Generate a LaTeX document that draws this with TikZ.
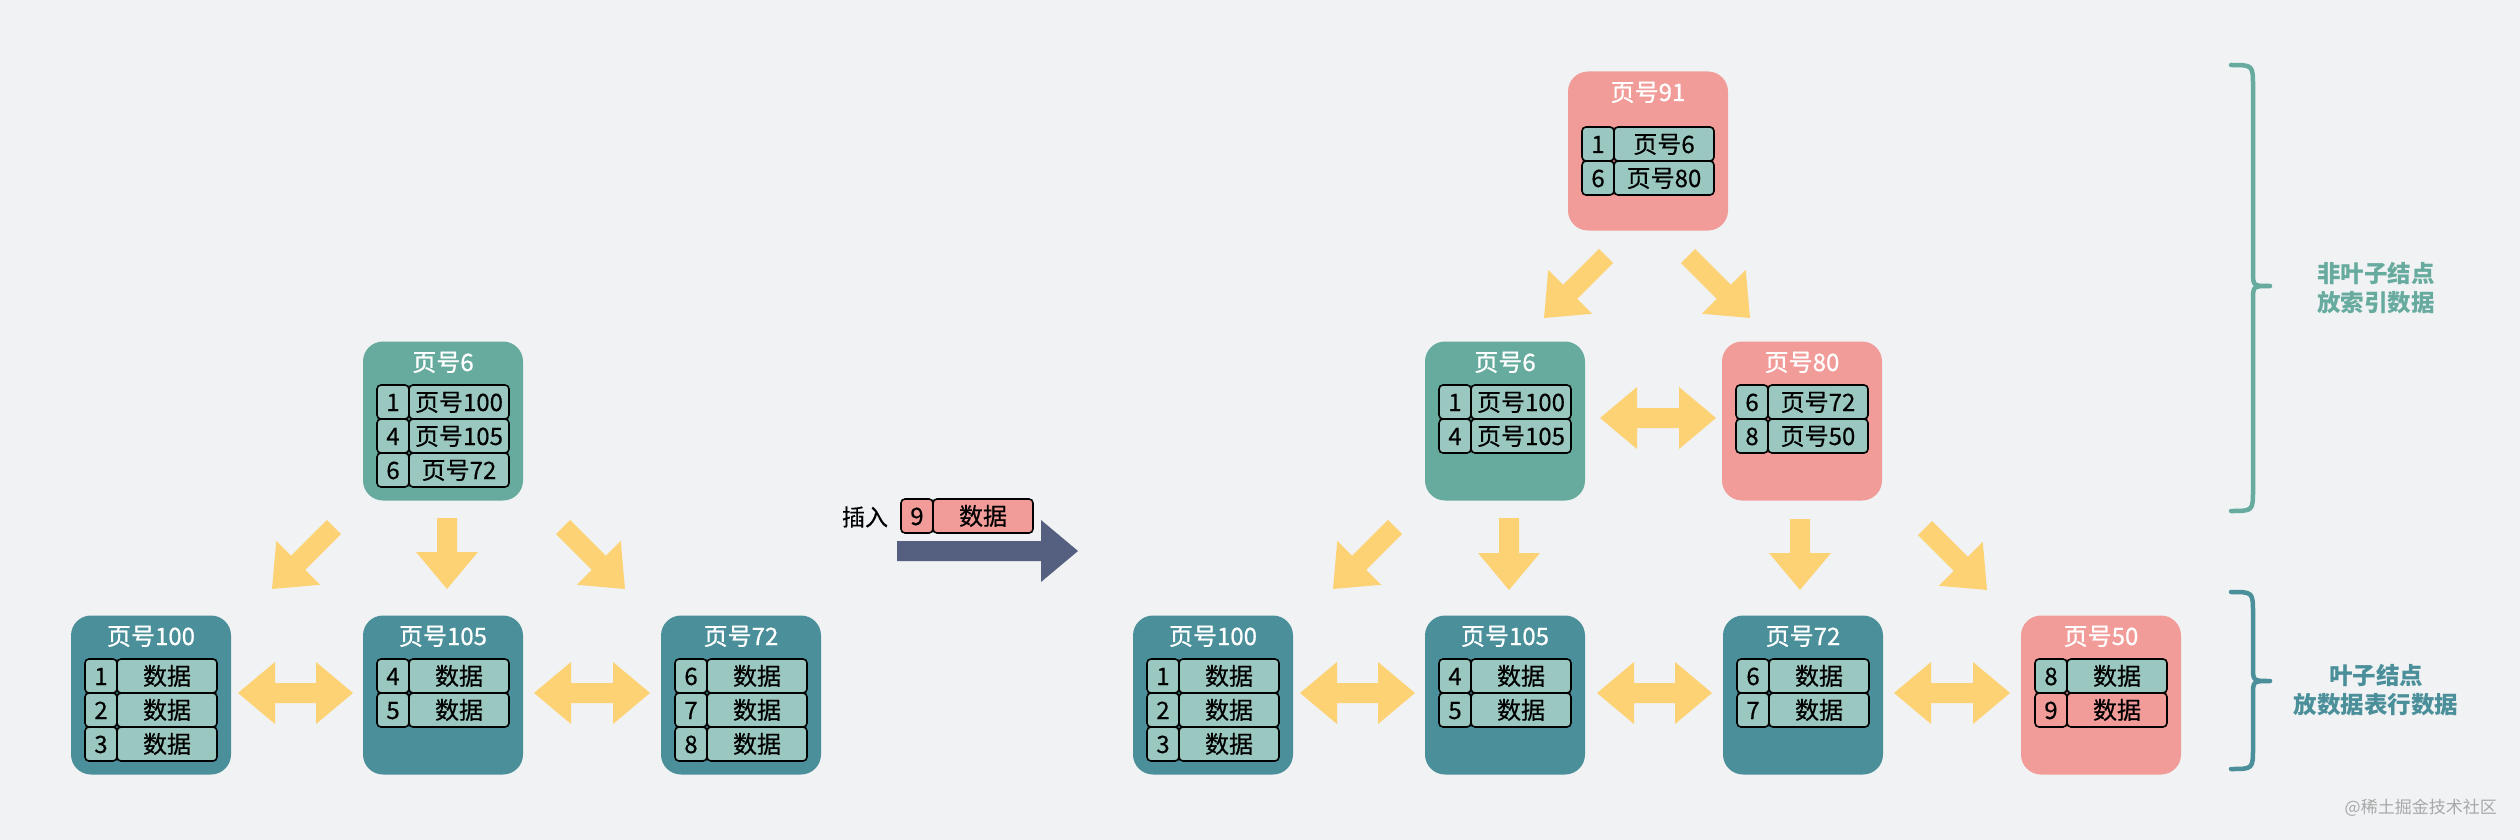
\documentclass[tikz,border=0pt]{standalone}
\usepackage{fontspec}
\setmainfont{Noto Sans CJK SC}
\newfontfamily\medfont{Noto Sans CJK SC}[FakeBold=0.8]
\newfontfamily\semifont{Noto Sans CJK SC}[FakeBold=0.4]
\usetikzlibrary{calc}
\definecolor{bgc}{HTML}{F0F2F4}
\definecolor{teal1}{HTML}{67AB9F}
\definecolor{leafc}{HTML}{4A8F99}
\definecolor{cellc}{HTML}{9AC7BF}
\definecolor{pinkc}{HTML}{F19C99}
\definecolor{yel}{HTML}{FDD274}
\definecolor{insc}{HTML}{555F80}
\definecolor{wmc}{HTML}{A8A8A8}
\tikzset{
  pg/.style={draw=none, rounded corners=20pt, minimum width=160pt, minimum height=159pt, inner sep=0pt},
  pgtitle/.style={text=white, font=\medfont\fontsize{24}{28}\selectfont, inner sep=0pt, text height=18pt, text depth=0pt},
  cellk/.style={draw=black, line width=1.6pt, rounded corners=4pt, minimum width=32pt, minimum height=34pt, inner sep=0pt, font=\semifont\fontsize{24}{28}\selectfont, text height=18pt, text depth=0pt},
  cellv/.style={cellk, minimum width=100pt},
  yarrow/.style={fill=yel},
  iarrow/.style={fill=insc},
  bracea/.style={draw=teal1, line width=4.5pt, line cap=round, line join=round},
  braceb/.style={draw=leafc, line width=4.5pt, line cap=round, line join=round},
}
% page box: name, left, top, color, title
\newcommand\pagebox[5]{%
  \node[pg, fill=#4] (#1) at ({#2+80},{#3+80}) {};
  \node[pgtitle] (#1t) at ({#2+80},{#3+21}) {#5};
}
% cell row: name, left, top, key, value, fill
\newcommand\cellrow[6]{%
  \node[cellk, fill=#6] (#1k) at ({#2+16},{#3+17}) {#4};
  \node[cellv, fill=#6] (#1v) at ({#2+82},{#3+17}) {#5};
}
% fat single arrow: tail, tip, style
\newcommand\fatarrow[3]{%
  \coordinate (fah) at ($(#2)!37pt!(#1)$);
  \fill[#3] ($(#1)!10pt!90:(#2)$) -- ($(fah)!10pt!90:(#2)$) -- ($(fah)!31pt!90:(#2)$) -- (#2)
    -- ($(fah)!31pt!-90:(#2)$) -- ($(fah)!10pt!-90:(#2)$) -- ($(#1)!10pt!-90:(#2)$) -- cycle;
}
% fat double arrow: end a, end b, style
\newcommand\dblarrow[3]{%
  \coordinate (dah) at ($(#1)!37pt!(#2)$);
  \coordinate (dak) at ($(#2)!37pt!(#1)$);
  \fill[#3] (#1) -- ($(dah)!31pt!90:(#2)$) -- ($(dah)!10pt!90:(#2)$) -- ($(dak)!10pt!90:(#2)$)
    -- ($(dak)!31pt!90:(#2)$) -- (#2) -- ($(dak)!31pt!-90:(#2)$) -- ($(dak)!10pt!-90:(#2)$)
    -- ($(dah)!10pt!-90:(#2)$) -- ($(dah)!31pt!-90:(#2)$) -- cycle;
}
\begin{document}
\begin{tikzpicture}[x=1pt,y=-1pt]
\useasboundingbox (0,0) rectangle (2520,840);
\fill[bgc] (0,0) rectangle (2520,840);

% ---------- left tree ----------
\pagebox{lp6}{363}{341}{teal1}{页号6}
\cellrow{lp6a}{377}{385}{1}{页号100}{cellc}
\cellrow{lp6b}{377}{419}{4}{页号105}{cellc}
\cellrow{lp6c}{377}{453}{6}{页号72}{cellc}

\pagebox{lp100}{71}{615}{leafc}{页号100}
\cellrow{lp100a}{85}{659}{1}{数据}{cellc}
\cellrow{lp100b}{85}{693}{2}{数据}{cellc}
\cellrow{lp100c}{85}{727}{3}{数据}{cellc}

\pagebox{lp105}{363}{615}{leafc}{页号105}
\cellrow{lp105a}{377}{659}{4}{数据}{cellc}
\cellrow{lp105b}{377}{693}{5}{数据}{cellc}

\pagebox{lp72}{661}{615}{leafc}{页号72}
\cellrow{lp72a}{675}{659}{6}{数据}{cellc}
\cellrow{lp72b}{675}{693}{7}{数据}{cellc}
\cellrow{lp72c}{675}{727}{8}{数据}{cellc}

\coordinate (la1) at (334,527); \coordinate (la2) at (272,589);
\coordinate (lb1) at (447,518); \coordinate (lb2) at (447,589);
\coordinate (lc1) at (563,527); \coordinate (lc2) at (625,589);
\coordinate (ld1) at (238,693); \coordinate (ld2) at (353,693);
\coordinate (le1) at (534,693); \coordinate (le2) at (650,693);
\fatarrow{la1}{la2}{yarrow}
\fatarrow{lb1}{lb2}{yarrow}
\fatarrow{lc1}{lc2}{yarrow}
\dblarrow{ld1}{ld2}{yarrow}
\dblarrow{le1}{le2}{yarrow}

% ---------- insert ----------
\node[font=\semifont\fontsize{23}{28}\selectfont, inner sep=0pt, text height=17.5pt, text depth=0pt] (ins) at (865,517) {插入};
\cellrow{insr}{901}{499}{9}{数据}{pinkc}
\coordinate (ia1) at (897,551); \coordinate (ia2) at (1078,551);
\fatarrow{ia1}{ia2}{iarrow}

% ---------- right tree ----------
\pagebox{rp91}{1568}{71}{pinkc}{页号91}
\cellrow{rp91a}{1582}{127}{1}{页号6}{cellc}
\cellrow{rp91b}{1582}{161}{6}{页号80}{cellc}

\pagebox{rp6}{1425}{341}{teal1}{页号6}
\cellrow{rp6a}{1439}{385}{1}{页号100}{cellc}
\cellrow{rp6b}{1439}{419}{4}{页号105}{cellc}

\pagebox{rp80}{1722}{341}{pinkc}{页号80}
\cellrow{rp80a}{1736}{385}{6}{页号72}{cellc}
\cellrow{rp80b}{1736}{419}{8}{页号50}{cellc}

\pagebox{rp100}{1133}{615}{leafc}{页号100}
\cellrow{rp100a}{1147}{659}{1}{数据}{cellc}
\cellrow{rp100b}{1147}{693}{2}{数据}{cellc}
\cellrow{rp100c}{1147}{727}{3}{数据}{cellc}

\pagebox{rp105}{1425}{615}{leafc}{页号105}
\cellrow{rp105a}{1439}{659}{4}{数据}{cellc}
\cellrow{rp105b}{1439}{693}{5}{数据}{cellc}

\pagebox{rp72}{1723}{615}{leafc}{页号72}
\cellrow{rp72a}{1737}{659}{6}{数据}{cellc}
\cellrow{rp72b}{1737}{693}{7}{数据}{cellc}

\pagebox{rp50}{2021}{615}{pinkc}{页号50}
\cellrow{rp50a}{2035}{659}{8}{数据}{cellc}
\cellrow{rp50b}{2035}{693}{9}{数据}{pinkc}

\coordinate (ra1) at (1606,256); \coordinate (ra2) at (1544,318);
\coordinate (rb1) at (1688,256); \coordinate (rb2) at (1750,318);
\coordinate (rc1) at (1600,418); \coordinate (rc2) at (1716,418);
\coordinate (rd1) at (1395,527); \coordinate (rd2) at (1333,589);
\coordinate (re1) at (1509,518); \coordinate (re2) at (1509,590);
\coordinate (rf1) at (1800,519); \coordinate (rf2) at (1800,590);
\coordinate (rg1) at (1925,528); \coordinate (rg2) at (1987,590);
\coordinate (rh1) at (1300,693); \coordinate (rh2) at (1415,693);
\coordinate (ri1) at (1597,693); \coordinate (ri2) at (1712,693);
\coordinate (rj1) at (1894,693); \coordinate (rj2) at (2010,693);
\fatarrow{ra1}{ra2}{yarrow}
\fatarrow{rb1}{rb2}{yarrow}
\dblarrow{rc1}{rc2}{yarrow}
\fatarrow{rd1}{rd2}{yarrow}
\fatarrow{re1}{re2}{yarrow}
\fatarrow{rf1}{rf2}{yarrow}
\fatarrow{rg1}{rg2}{yarrow}
\dblarrow{rh1}{rh2}{yarrow}
\dblarrow{ri1}{ri2}{yarrow}
\dblarrow{rj1}{rj2}{yarrow}

% ---------- braces ----------
\draw[bracea] (2231,65) .. controls (2253,65) .. (2253,87) -- (2253,272)
  .. controls (2253,286) .. (2270,286)
  .. controls (2253,286) .. (2253,300) -- (2253,489)
  .. controls (2253,511) .. (2231,511);
\draw[braceb] (2231,592) .. controls (2253,592) .. (2253,614) -- (2253,667)
  .. controls (2253,681) .. (2270,681)
  .. controls (2253,681) .. (2253,695) -- (2253,747)
  .. controls (2253,769) .. (2231,769);
\node[text=teal1, font=\fontsize{23.5}{29}\selectfont\bfseries, align=center, inner sep=0pt] (lbl1) at (2376,288) {非叶子结点\\放索引数据};
\node[text=leafc, font=\fontsize{23.5}{29}\selectfont\bfseries, align=center, inner sep=0pt] (lbl2) at (2376,690) {叶子结点\\放数据表行数据};
\node[text=wmc, font=\fontsize{17}{20}\selectfont, anchor=east, inner sep=0pt] (wm) at (2497,808) {@稀土掘金技术社区};
\end{tikzpicture}
\end{document}
